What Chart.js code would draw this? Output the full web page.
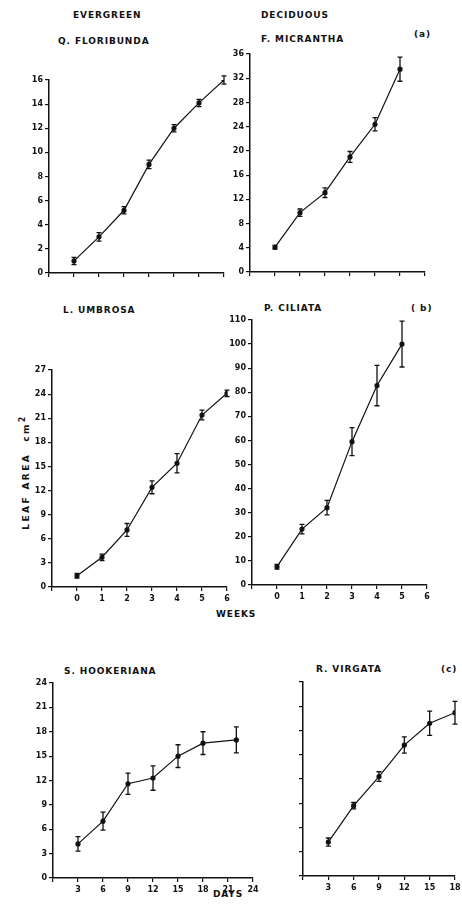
<!DOCTYPE html>
<html>
<head>
<meta charset="utf-8">
<script src="https://cdn.jsdelivr.net/npm/chart.js@4"></script>
<style>
  html,body{margin:0;padding:0;background:#fff;}
  body{width:462px;height:913px;position:relative;overflow:hidden;font-family:"DejaVu Sans",sans-serif;color:#111;}
  canvas{position:absolute;}
  .lbl{position:absolute;font-size:9px;font-weight:600;letter-spacing:0.9px;white-space:nowrap;line-height:1;}
  .ylab{position:absolute;font-size:9px;font-weight:600;letter-spacing:2.4px;white-space:nowrap;transform:translate(-50%,-50%) rotate(-90deg);}
</style>
</head>
<body>
<div class="lbl" style="left:73px;top:11px">EVERGREEN</div>
<div class="lbl" style="left:58px;top:37px">Q. FLORIBUNDA</div>
<div class="lbl" style="left:261px;top:11px">DECIDUOUS</div>
<div class="lbl" style="left:261px;top:35px">F. MICRANTHA</div>
<div class="lbl" style="left:414px;top:30px">(a)</div>
<div class="lbl" style="left:63px;top:306px">L. UMBROSA</div>
<div class="lbl" style="left:264px;top:304px">P. CILIATA</div>
<div class="lbl" style="left:411px;top:304px">( b)</div>
<div class="lbl" style="left:216px;top:610px">WEEKS</div>
<div class="lbl" style="left:64px;top:667px">S. HOOKERIANA</div>
<div class="lbl" style="left:316px;top:665px">R. VIRGATA</div>
<div class="lbl" style="left:441px;top:665px">(c)</div>
<div class="lbl" style="left:213px;top:890px">DAYS</div>
<div class="ylab" style="left:24px;top:472px">LEAF AREA &nbsp;cm<sup style="font-size:8px">2</sup></div>

<script>
// weeks for (a) and (b), days for (c)
const weeks = [0, 1, 2, 3, 4, 5, 6];
const weeksP = [0, 1, 2, 3, 4, 5];
const daysHook = [3, 6, 9, 12, 15, 18, 22];
const daysVirg = [3, 6, 9, 12, 15, 18];

// leaf area cm2 (mean) and error half-length
const qFloribunda = [1.0, 3.0, 5.2, 9.0, 12.0, 14.1, 16.0];
const qFloribundaErr = [0.3, 0.35, 0.3, 0.35, 0.3, 0.3, 0.35];
const fMicrantha = [4.1, 9.8, 13.1, 19.0, 24.4, 33.5];
const fMicranthaErr = [0.3, 0.6, 0.8, 0.9, 1.1, 2.0];
const lUmbrosa = [1.4, 3.7, 7.1, 12.4, 15.4, 21.4, 24.1];
const lUmbrosaErr = [0.3, 0.4, 0.8, 0.8, 1.2, 0.6, 0.4];
const pCiliata = [7.6, 23.2, 32.1, 59.5, 82.8, 100.0];
const pCiliataErr = [1.0, 2.0, 3.0, 5.8, 8.4, 9.5];
const sHookeriana = [4.2, 7.0, 11.6, 12.3, 15.0, 16.6, 17.0];
const sHookerianaErr = [0.9, 1.1, 1.3, 1.5, 1.4, 1.4, 1.6];
const rVirgata = [4.2, 8.7, 12.3, 16.2, 18.9, 20.2];
const rVirgataErr = [0.5, 0.4, 0.6, 1.0, 1.5, 1.4];

Chart.defaults.font.family = '"DejaVu Sans", sans-serif';
Chart.defaults.font.size = 8;
Chart.defaults.font.weight = '600';
Chart.defaults.color = '#111';

const errorBars = {
  id: 'errorBars',
  afterDatasetsDraw(chart){
    const ctx = chart.ctx, xs = chart.scales.x, ys = chart.scales.y;
    chart.data.datasets.forEach(ds => {
      if (!ds.errors) return;
      ctx.save();
      ctx.strokeStyle = '#111'; ctx.lineWidth = 1.3;
      ds.data.forEach((p, i) => {
        const e = ds.errors[i], x = xs.getPixelForValue(p.x);
        const y1 = ys.getPixelForValue(p.y + e), y2 = ys.getPixelForValue(p.y - e);
        ctx.beginPath();
        ctx.moveTo(x, y1); ctx.lineTo(x, y2);
        ctx.moveTo(x - 2.5, y1); ctx.lineTo(x + 2.5, y1);
        ctx.moveTo(x - 2.5, y2); ctx.lineTo(x + 2.5, y2);
        ctx.stroke();
      });
      ctx.restore();
    });
  }
};

const YW = 34, PT = 8, PR = 12, XH = 24;

function fixW(w){ return s => { s.width = w; s.paddingLeft = s.paddingRight = s.paddingTop = s.paddingBottom = 0; }; }
function fixH(h){ return s => { s.height = h; s.paddingLeft = s.paddingRight = s.paddingTop = s.paddingBottom = 0; }; }

function panel(area, xs, ys, errs, xopt, yopt){
  const c = document.createElement('canvas');
  const w = YW + (area.r - area.l) + PR, h = PT + (area.b - area.t) + XH;
  c.width = w; c.height = h;
  c.style.left = (area.l - YW) + 'px'; c.style.top = (area.t - PT) + 'px';
  c.style.width = w + 'px'; c.style.height = h + 'px';
  document.body.appendChild(c);
  new Chart(c.getContext('2d'), {
    type: 'line',
    data: { datasets: [{
      data: xs.map((x, i) => ({ x, y: ys[i] })),
      errors: errs,
      borderColor: '#111', borderWidth: 1.2,
      pointRadius: 2, pointBackgroundColor: '#111', pointBorderColor: '#111',
      tension: 0
    }]},
    options: {
      responsive: false, animation: false, devicePixelRatio: 1,
      layout: { padding: { top: PT, right: PR, left: 0, bottom: 0 } },
      plugins: { legend: { display: false }, tooltip: { enabled: false } },
      scales: {
        x: {
          type: 'linear', min: xopt.min, max: xopt.max,
          afterFit: fixH(XH),
          border: { color: '#111', width: 1.5 },
          grid: { drawOnChartArea: false, color: '#111', tickLength: 4, lineWidth: 1.2 },
          ticks: { stepSize: xopt.step, autoSkip: false, maxRotation: 0, padding: 3,
                   callback: v => (xopt.labels && v > xopt.min) ? v : '' }
        },
        y: {
          type: 'linear', min: 0, max: yopt.max,
          afterFit: fixW(YW),
          border: { color: '#111', width: 1.5 },
          grid: { drawOnChartArea: false, color: '#111', tickLength: 4, lineWidth: 1.2 },
          ticks: { stepSize: yopt.step, autoSkip: false, padding: 2,
                   callback: v => yopt.labels === false ? '' : v }
        }
      }
    },
    plugins: [errorBars]
  });
}

panel({l:49, r:224, t:80, b:273}, weeks, qFloribunda, qFloribundaErr,
      {min:-1, max:6, step:1, labels:false}, {max:16, step:2});
panel({l:250, r:425, t:54, b:272}, weeksP, fMicrantha, fMicranthaErr,
      {min:-1, max:6, step:1, labels:false}, {max:36, step:4});
panel({l:52, r:227, t:370, b:587}, weeks, lUmbrosa, lUmbrosaErr,
      {min:-1, max:6, step:1, labels:true}, {max:27, step:3});
panel({l:252, r:427, t:320, b:585}, weeksP, pCiliata, pCiliataErr,
      {min:-1, max:6, step:1, labels:true}, {max:110, step:10});
panel({l:53, r:253, t:683, b:878}, daysHook, sHookeriana, sHookerianaErr,
      {min:0, max:24, step:3, labels:true}, {max:24, step:3});
panel({l:303, r:455, t:682, b:876}, daysVirg, rVirgata, rVirgataErr,
      {min:0, max:18, step:3, labels:true}, {max:24, step:3, labels:false});
</script>
</body>
</html>
